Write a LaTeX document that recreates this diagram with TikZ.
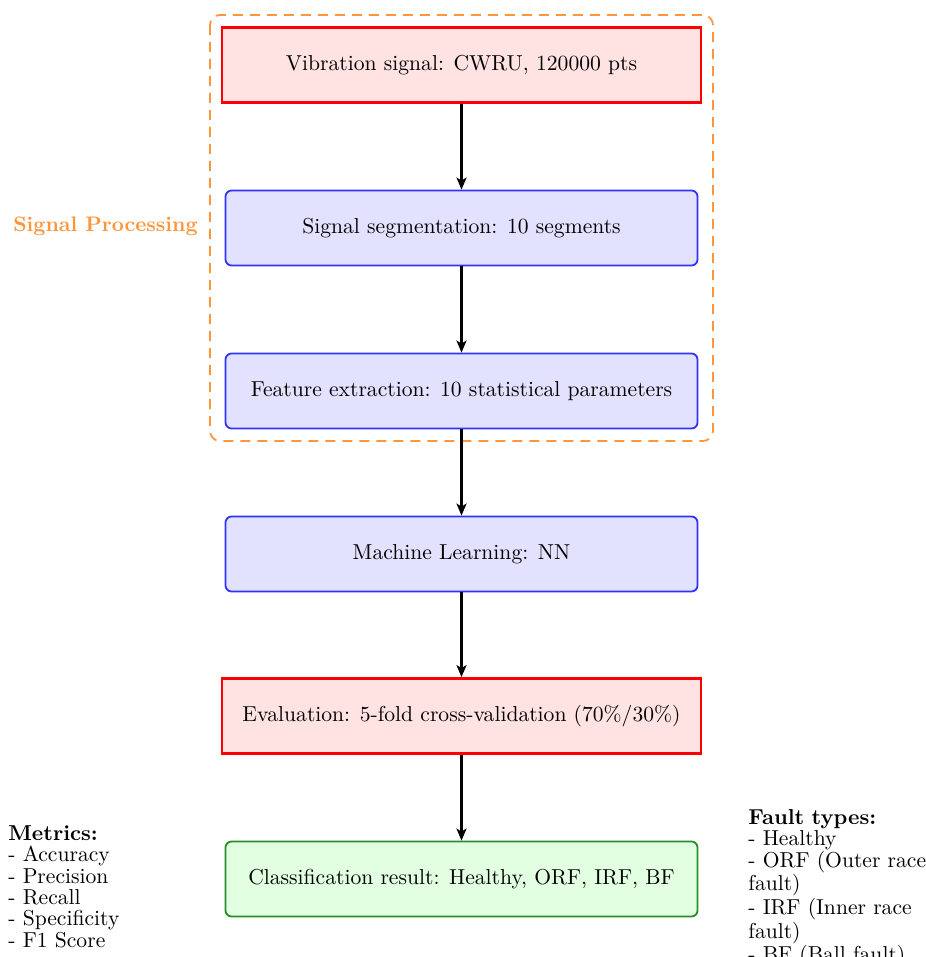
\documentclass[tikz,border=0pt]{standalone}
\usetikzlibrary{arrows.meta}
\definecolor{spfill}{RGB}{255,226,226}
\definecolor{mlfill}{RGB}{226,226,255}
\definecolor{okfill}{RGB}{226,255,226}
\definecolor{okline}{RGB}{40,140,40}
\definecolor{mlline}{RGB}{50,50,255}
\definecolor{procline}{RGB}{255,150,60}
\begin{document}
\begin{tikzpicture}[x=0.5pt,y=-0.5pt,
  every node/.style={font=\fontsize{10.8}{13}\selectfont},
  keybox/.style={draw=red, line width=1.4pt, fill=spfill, minimum width=239.5pt, minimum height=37.5pt, inner sep=0pt},
  stagebox/.style={draw=mlline, line width=0.9pt, fill=mlfill, rounded corners=3pt, minimum width=236pt, minimum height=37.5pt, inner sep=0pt},
  resultbox/.style={draw=okline, line width=0.9pt, fill=okfill, rounded corners=3pt, minimum width=236pt, minimum height=37.5pt, inner sep=0pt},
  flow/.style={-{Stealth[length=6pt,width=5pt,inset=1.5pt]}, line width=1.1pt},
  notes/.style={align=left, inner sep=0pt, font=\fontsize{10.8}{10.7}\selectfont}]
\useasboundingbox (0,0) rectangle (925,957);

% processing group
\draw[procline, line width=0.9pt, dash pattern=on 5pt off 3.5pt, rounded corners=5pt] (210,15) rectangle (713,441);
\node[procline, font=\fontsize{10.5}{13}\selectfont\bfseries] (grouplabel) at (105.5,226) {Signal Processing};

% pipeline stages
\node[keybox] (signal) at (461.5,65) {Vibration signal: CWRU, 120000 pts};
\node[stagebox] (segment) at (461.5,228) {Signal segmentation: 10 segments};
\node[stagebox] (features) at (461.5,391) {Feature extraction: 10 statistical parameters};
\node[stagebox] (learning) at (461.5,554) {Machine Learning: NN};
\node[keybox] (evaluation) at (461.5,716) {Evaluation: 5-fold cross-validation (70\%/30\%)};
\node[resultbox] (result) at (461.5,879) {Classification result: Healthy, ORF, IRF, BF};

\draw[flow] (signal) -- (segment);
\draw[flow] (segment) -- (features);
\draw[flow] (features) -- (learning);
\draw[flow] (learning) -- (evaluation);
\draw[flow] (evaluation) -- (result);

% side notes
\node[notes, anchor=north west] (metrics) at (8,825) {\textbf{Metrics:}\\- Accuracy\\- Precision\\- Recall\\- Specificity\\- F1 Score};
\node[notes, anchor=north west, text width=90pt] (faults) at (748,809) {\textbf{Fault types:}\\- Healthy\\- ORF (Outer race fault)\\- IRF (Inner race fault)\\- BF (Ball fault)};
\end{tikzpicture}
\end{document}
